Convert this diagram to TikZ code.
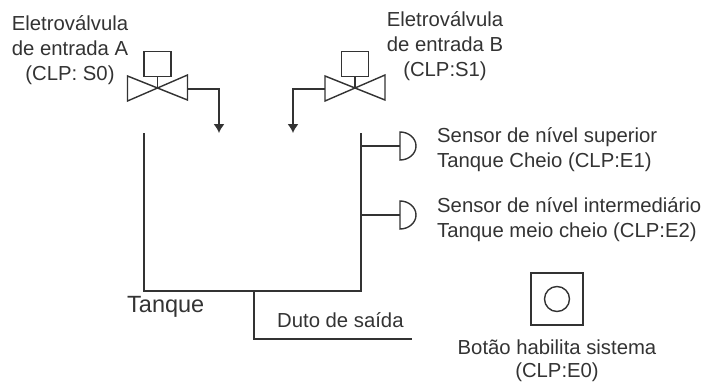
\documentclass[tikz,border=0pt]{standalone}
\usepackage{fontspec}
\setmainfont{Liberation Sans}
\usetikzlibrary{arrows.meta,positioning}
\definecolor{Ink}{HTML}{333333}
\begin{document}
\begin{tikzpicture}[x=1pt,y=-1pt,
 line/.style={draw=Ink,line width=1.4pt},
 lbl/.style={text=Ink,align=center,font=\fontsize{20.3}{25}\selectfont,inner sep=0pt},
 arr/.style={line,-{Latex[length=9pt,width=11pt]}},
 coil/.style={line,minimum width=27pt,minimum height=25pt,inner sep=0pt},
 valve/.pic={\draw[line,line join=miter] (0,0)--(-30,-12)--(-30,13)--(30,-13)--(30,12)--cycle;},
 sensor/.pic={\draw[line] (0,-14) arc[start angle=-90,end angle=90,x radius=16,y radius=14]--cycle;}]
 \useasboundingbox (0,0) rectangle (704,383);
 % valves
 \coordinate (va) at (157.5,88);
 \coordinate (vb) at (355,88);
 \pic at (va) {valve};
 \pic at (vb) {valve};
 \node[coil,above=11pt of va] (ca) {};
 \node[coil,above=11pt of vb] (cb) {};
 \draw[line] (ca)--(va); \draw[line] (cb)--(vb);
 \coordinate (ina) at (219,133);
 \coordinate (inb) at (293,133);
 \draw[arr] (187.5,89)-|(ina);
 \draw[arr] (325,89)-|(inb);
 % tank
 \coordinate (tl) at (144,133);
 \coordinate (tr) at (361,133);
 \coordinate (joint) at (254,291);
 \coordinate (duto) at (412,339);
 \draw[line] (tl)|-(joint)-|(tr);
 \draw[line] (joint)|-(duto);
 % sensors
 \coordinate (s1) at (400,146);
 \coordinate (s2) at (400,215);
 \pic at (s1) {sensor};
 \pic at (s2) {sensor};
 \draw[line] (tr|-s1)--(s1);
 \draw[line] (tr|-s2)--(s2);
 % button
 \node[line,minimum width=52pt,minimum height=52pt,inner sep=0pt] (btn) at (557,299) {};
 \node[line,circle,minimum size=25pt,inner sep=0pt] (led) at (btn) {};
 % labels
 \node[lbl] (la) at (70,50) {Eletroválvula\\de entrada A\\(CLP: S0)};
 \node[lbl] (lb) at (445,46) {Eletroválvula\\de entrada B\\(CLP:S1)};
 \node[lbl,align=left,anchor=west] (t1) at (437,150) {Sensor de nível superior\\Tanque Cheio (CLP:E1)};
 \node[lbl,align=left,anchor=west] (t2) at (437,220) {Sensor de nível intermediário\\Tanque meio cheio (CLP:E2)};
 \node[lbl,anchor=west,font=\fontsize{23.5}{25}\selectfont] (tq) at (127,307) {Tanque};
 \node[lbl,anchor=west] (ds) at (277,320) {Duto de saída};
 \node[lbl,font=\fontsize{20.3}{23}\selectfont] (tb) at (557,361) {Botão habilita sistema\\(CLP:E0)};
\end{tikzpicture}
\end{document}
